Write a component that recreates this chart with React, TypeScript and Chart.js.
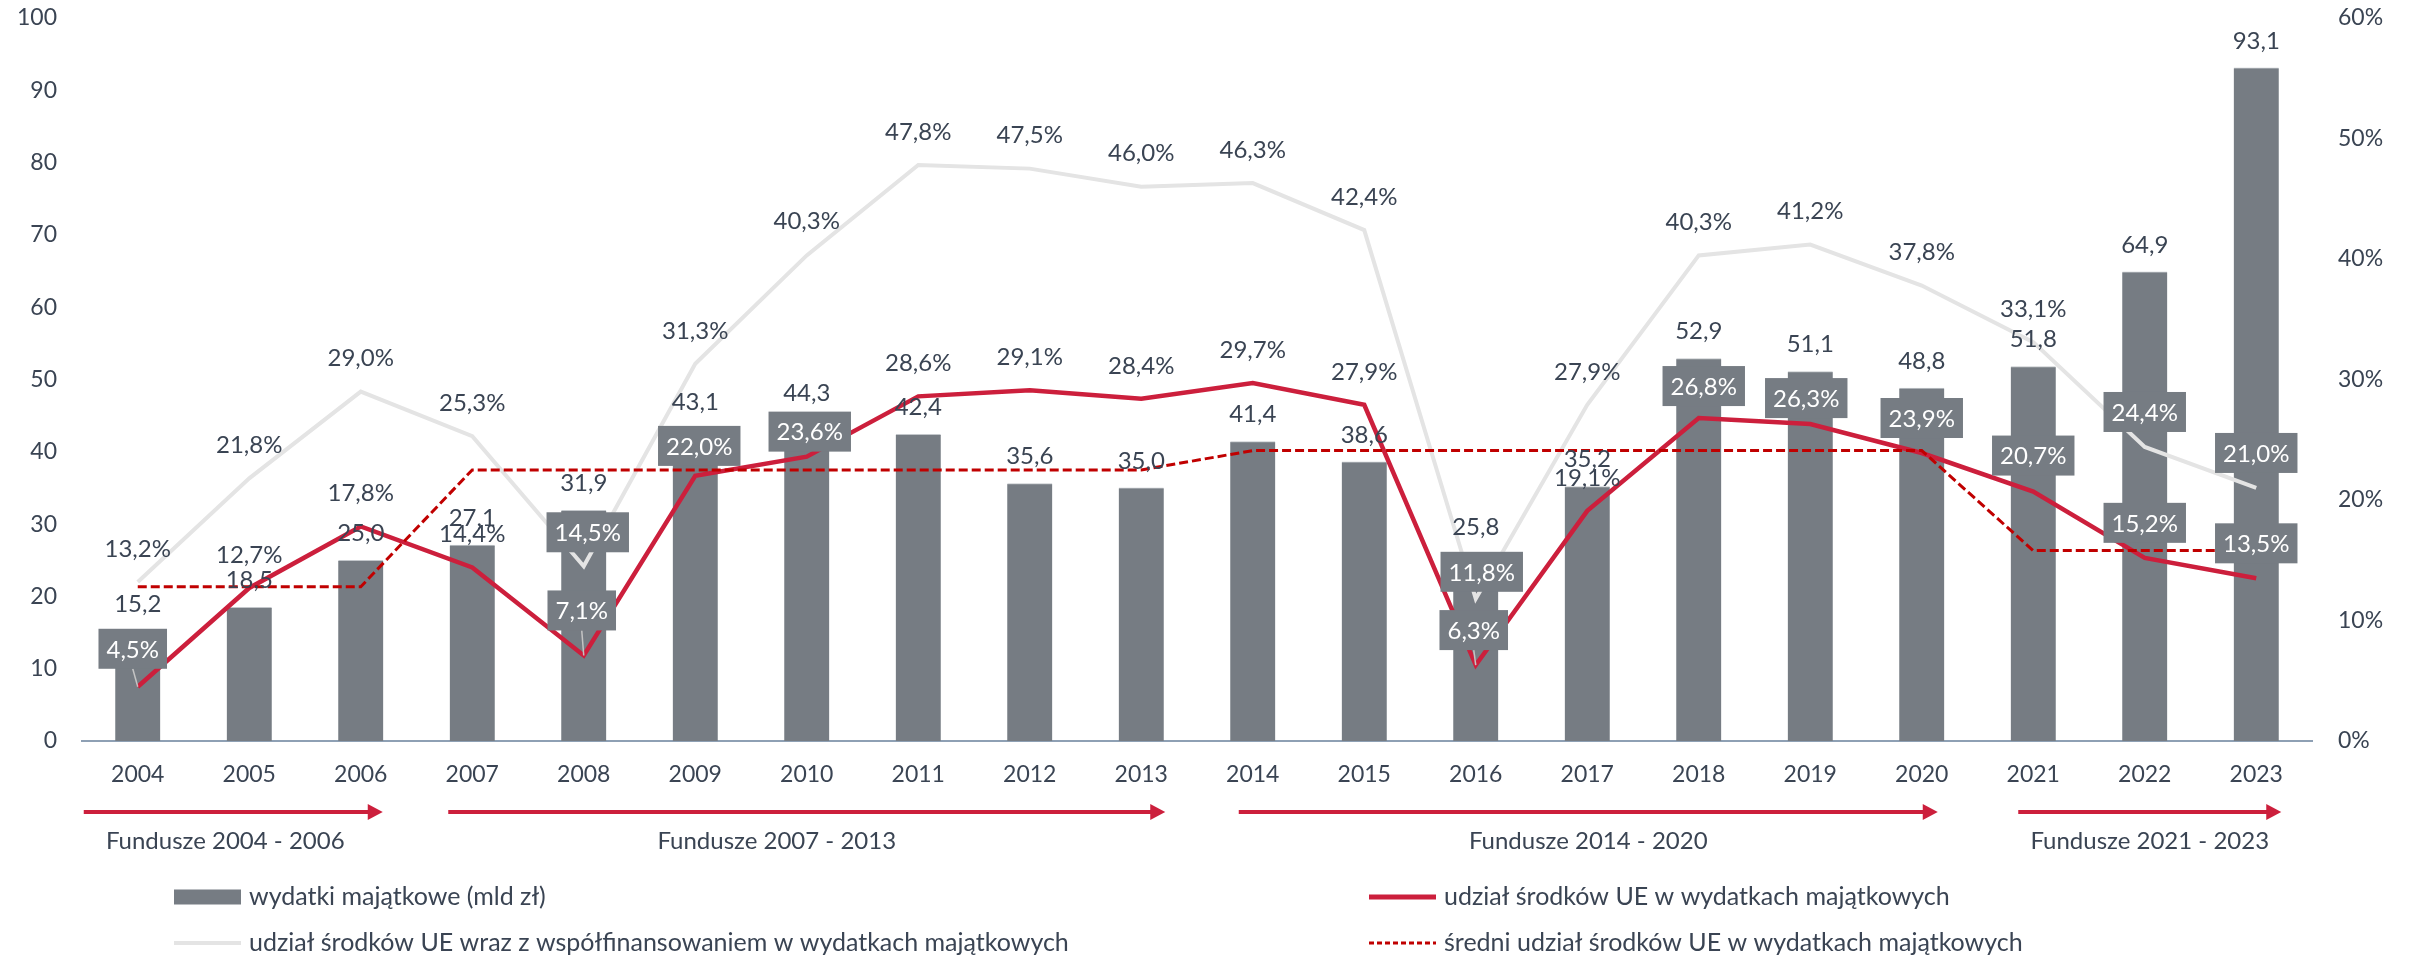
import React, { useEffect, useRef } from 'react';
import { Chart, registerables } from 'chart.js';

Chart.register(...registerables);

// ---------- data ----------
const years = ['2004', '2005', '2006', '2007', '2008', '2009', '2010', '2011', '2012', '2013', '2014', '2015', '2016', '2017', '2018', '2019', '2020', '2021', '2022', '2023'];
const capex = [15.2, 18.5, 25.0, 27.1, 31.9, 43.1, 44.3, 42.4, 35.6, 35.0, 41.4, 38.6, 25.8, 35.2, 52.9, 51.1, 48.8, 51.8, 64.9, 93.1];
const euShare = [4.5, 12.7, 17.8, 14.4, 7.1, 22.0, 23.6, 28.6, 29.1, 28.4, 29.7, 27.9, 6.3, 19.1, 26.8, 26.3, 23.9, 20.7, 15.2, 13.5];
const euCofinShare = [13.2, 21.8, 29.0, 25.3, 14.5, 31.3, 40.3, 47.8, 47.5, 46.0, 46.3, 42.4, 11.8, 27.9, 40.3, 41.2, 37.8, 33.1, 24.4, 21.0];
const avgEuShare = [12.8, 12.8, 12.8, 22.5, 22.5, 22.5, 22.5, 22.5, 22.5, 22.5, 24.1, 24.1, 24.1, 24.1, 24.1, 24.1, 24.1, 15.8, 15.8, 15.8];

const leftMax = 100;
const rightMax = 60;
const tickStep = 10;

const periodLabels = ['Fundusze 2004 - 2006', 'Fundusze 2007 - 2013', 'Fundusze 2014 - 2020', 'Fundusze 2021 - 2023'];
const periodFrom = [0, 3, 10, 17];
const periodTo = [2, 9, 16, 19];

const legendLabels = [
  'wydatki majątkowe (mld zł)',
  'udział środków UE wraz z współfinansowaniem w wydatkach majątkowych',
  'udział środków UE w wydatkach majątkowych',
  'średni udział środków UE w wydatkach majątkowych',
];

// which line labels sit in a filled box (white text)
const euShareBoxed = [0, 4, 5, 6, 12, 14, 15, 16, 17, 18, 19];
const euCofinBoxed = [4, 12, 18, 19];
// which boxed labels have a leader line to their point
const euShareLeader = [0, 4, 12];

// ---------- layout / style ----------
const W = 2415;
const H = 956;
const AREA = { left: 82, right: 2312, top: 18, bottom: 741 };
const FONT_FAMILY = 'Lato, "Open Sans", sans-serif';
const TICK_SIZE = 23;
const LABEL_FONT = `24px ${FONT_FAMILY}`;
const LEGEND_FONT = `25px ${FONT_FAMILY}`;
const TEXT = '#3a4453';
const BAR = '#767c83';
const RED = '#cc1f3c';
const DARKRED = '#c00000';
const LIGHT = '#e4e4e4';
const AXIS = '#8ea0b4';

const LABEL_DY = -33;
const euLabelShift: Record<number, [number, number]> = {
  0: [-5, -38], 4: [-2, -45], 5: [4, -30], 6: [3, -25], 12: [-2, -35], 14: [5, -32], 15: [-4, -26],
  16: [0, -35], 17: [0, -36], 18: [0, -35], 19: [0, -35],
};
const cofinLabelShift: Record<number, [number, number]> = {
  4: [4, -34], 12: [6, -27], 18: [0, -35], 19: [0, -35], 6: [0, -34],
};
const arrowPad: [number, number][] = [[-54, 22], [-24, 24], [-14, 16], [-15, 25]];
const periodTextShift = [-8, -30, 0, 0];

const fmt = (v: number) => v.toFixed(1).replace('.', ',');

const labelPlugin = {
  id: 'customLabels',
  afterDatasetsDraw(chart: any) {
    const ctx: CanvasRenderingContext2D = chart.ctx;
    ctx.save();
    ctx.font = LABEL_FONT;
    ctx.textAlign = 'center';
    ctx.textBaseline = 'middle';

    const barMeta = chart.getDatasetMeta(0);
    barMeta.data.forEach((el: any, i: number) => {
      ctx.fillStyle = TEXT;
      ctx.fillText(fmt(capex[i]), el.x, el.y - 27);
    });

    type Lab = { x: number; y: number; px: number; py: number; text: string; boxed: boolean; leader: boolean };
    const labs: Lab[] = [];
    const cofinMeta = chart.getDatasetMeta(1);
    cofinMeta.data.forEach((el: any, i: number) => {
      const s = cofinLabelShift[i] || [0, LABEL_DY];
      labs.push({ x: el.x + s[0], y: el.y + s[1], px: el.x, py: el.y, text: fmt(euCofinShare[i]) + '%', boxed: euCofinBoxed.includes(i), leader: false });
    });
    const euMeta = chart.getDatasetMeta(2);
    euMeta.data.forEach((el: any, i: number) => {
      const s = euLabelShift[i] || [0, LABEL_DY];
      labs.push({ x: el.x + s[0], y: el.y + s[1], px: el.x, py: el.y, text: fmt(euShare[i]) + '%', boxed: euShareBoxed.includes(i), leader: euShareLeader.includes(i) });
    });

    labs.filter(l => !l.boxed).forEach(l => {
      ctx.fillStyle = TEXT;
      ctx.fillText(l.text, l.x, l.y);
    });
    labs.filter(l => l.boxed && l.leader).forEach(l => {
      const bottom = l.y + 20;
      ctx.strokeStyle = '#c4c4c4';
      ctx.lineWidth = 1.5;
      ctx.beginPath();
      ctx.moveTo(l.x, bottom);
      ctx.lineTo(l.px, l.py);
      ctx.stroke();
    });
    labs.filter(l => l.boxed).forEach(l => {
      const tw = ctx.measureText(l.text).width;
      const bw = tw + 16;
      const bh = 40;
      ctx.fillStyle = BAR;
      ctx.fillRect(l.x - bw / 2, l.y - bh / 2, bw, bh);
      ctx.fillStyle = '#ffffff';
      ctx.fillText(l.text, l.x, l.y + 1);
    });
    ctx.restore();
  },
  afterDraw(chart: any) {
    const ctx: CanvasRenderingContext2D = chart.ctx;
    const xs = chart.scales.x;
    ctx.save();
    const arrowY = 812;
    periodLabels.forEach((lbl, k) => {
      const x0 = xs.getPixelForValue(periodFrom[k]) + arrowPad[k][0];
      const x1 = xs.getPixelForValue(periodTo[k]) + arrowPad[k][1];
      ctx.strokeStyle = RED;
      ctx.fillStyle = RED;
      ctx.lineWidth = 4;
      ctx.beginPath();
      ctx.moveTo(x0, arrowY);
      ctx.lineTo(x1 - 12, arrowY);
      ctx.stroke();
      ctx.beginPath();
      ctx.moveTo(x1, arrowY);
      ctx.lineTo(x1 - 15, arrowY - 8);
      ctx.lineTo(x1 - 15, arrowY + 8);
      ctx.closePath();
      ctx.fill();
      ctx.font = LABEL_FONT;
      ctx.fillStyle = TEXT;
      ctx.textAlign = 'center';
      ctx.textBaseline = 'middle';
      ctx.fillText(lbl, (x0 + x1) / 2 + periodTextShift[k], 841);
    });

    const rows = [897, 943];
    const cols = [174, 1369];
    const symW = 67;
    const textGap = 8;
    const items = [
      { col: 0, row: 0, kind: 'bar' },
      { col: 0, row: 1, kind: 'light' },
      { col: 1, row: 0, kind: 'red' },
      { col: 1, row: 1, kind: 'dash' },
    ];
    items.forEach((it, k) => {
      const x = cols[it.col];
      const y = rows[it.row];
      if (it.kind === 'bar') {
        ctx.fillStyle = BAR;
        ctx.fillRect(x, y - 7.5, symW, 15);
      } else {
        ctx.beginPath();
        ctx.moveTo(x, y);
        ctx.lineTo(x + symW, y);
        if (it.kind === 'light') { ctx.strokeStyle = LIGHT; ctx.lineWidth = 4; ctx.setLineDash([]); }
        if (it.kind === 'red') { ctx.strokeStyle = RED; ctx.lineWidth = 5; ctx.setLineDash([]); }
        if (it.kind === 'dash') { ctx.strokeStyle = DARKRED; ctx.lineWidth = 3; ctx.setLineDash([5, 3]); }
        ctx.stroke();
        ctx.setLineDash([]);
      }
      ctx.font = LEGEND_FONT;
      ctx.fillStyle = TEXT;
      ctx.textAlign = 'left';
      ctx.textBaseline = 'middle';
      ctx.fillText(legendLabels[k], x + symW + textGap, y);
    });
    ctx.restore();
  },
};

const noVerticalPadding = (s: any) => {
  s.paddingTop = 0;
  s.paddingBottom = 0;
};

export default function App() {
  const canvasRef = useRef<HTMLCanvasElement | null>(null);

  useEffect(() => {
    document.body.style.margin = '0';
    const canvas = canvasRef.current;
    if (!canvas) return;
    Chart.defaults.font.family = FONT_FAMILY;
    Chart.defaults.font.size = TICK_SIZE;
    Chart.defaults.color = TEXT;

    const chart = new Chart(canvas, {
      type: 'bar',
      data: {
        labels: years,
        datasets: [
          {
            type: 'bar',
            label: legendLabels[0],
            data: capex,
            yAxisID: 'y',
            backgroundColor: BAR,
            borderColor: '#c3c7cb',
            borderWidth: { top: 1, left: 0, right: 0, bottom: 0 },
            barThickness: 45,
            order: 4,
          },
          {
            type: 'line',
            label: legendLabels[1],
            data: euCofinShare,
            yAxisID: 'y1',
            borderColor: LIGHT,
            borderWidth: 4,
            pointRadius: 0,
            tension: 0,
            order: 3,
          },
          {
            type: 'line',
            label: legendLabels[2],
            data: euShare,
            yAxisID: 'y1',
            borderColor: RED,
            borderWidth: 4.5,
            pointRadius: 0,
            tension: 0,
            order: 2,
          },
          {
            type: 'line',
            label: legendLabels[3],
            data: avgEuShare,
            yAxisID: 'y1',
            borderColor: DARKRED,
            borderWidth: 3,
            borderDash: [9, 4],
            pointRadius: 0,
            tension: 0,
            order: 1,
          },
        ] as any,
      },
      options: {
        responsive: false,
        maintainAspectRatio: false,
        animation: false,
        devicePixelRatio: 1,
        layout: { autoPadding: false, padding: { top: AREA.top, bottom: H - AREA.bottom - 60, left: 0, right: 0 } },
        plugins: { legend: { display: false }, tooltip: { enabled: false } },
        scales: {
          x: {
            grid: { display: false, drawTicks: false },
            border: { display: true, color: AXIS, width: 2 },
            ticks: { padding: 20, color: TEXT, font: { size: TICK_SIZE, family: FONT_FAMILY } },
            afterFit: (s: any) => { s.height = 60; s.paddingLeft = 0; s.paddingRight = 0; },
          },
          y: {
            position: 'left',
            min: 0,
            max: leftMax,
            grid: { display: false, drawTicks: false },
            border: { display: false },
            ticks: { stepSize: tickStep, padding: 25, color: TEXT, font: { size: TICK_SIZE, family: FONT_FAMILY } },
            afterFit: (s: any) => { s.width = AREA.left; noVerticalPadding(s); },
          },
          y1: {
            position: 'right',
            min: 0,
            max: rightMax,
            grid: { display: false, drawTicks: false },
            border: { display: false },
            ticks: {
              stepSize: tickStep,
              padding: 26,
              color: TEXT,
              font: { size: TICK_SIZE, family: FONT_FAMILY },
              callback: (v: any) => `${v}%`,
            },
            afterFit: (s: any) => { s.width = W - AREA.right; noVerticalPadding(s); },
          },
        },
      } as any,
      plugins: [labelPlugin],
    });

    // pin the plot area to the reference's position
    for (let k = 0; k < 3; k++) {
      const ca = chart.chartArea;
      const p = (chart.options as any).layout.padding;
      const dt = AREA.top - ca.top;
      const db = AREA.bottom - ca.bottom;
      const dl = AREA.left - ca.left;
      const dr = AREA.right - ca.right;
      if (Math.abs(dt) < 0.5 && Math.abs(db) < 0.5 && Math.abs(dl) < 0.5 && Math.abs(dr) < 0.5) break;
      p.top += dt;
      p.bottom -= db;
      p.left += dl;
      p.right -= dr;
      chart.update();
    }
    return () => chart.destroy();
  }, []);

  return (
    <div style={{ width: W, height: H, position: 'relative', background: '#fff' }}>
      <canvas ref={canvasRef} width={W} height={H} style={{ display: 'block', width: W, height: H }} />
    </div>
  );
}
